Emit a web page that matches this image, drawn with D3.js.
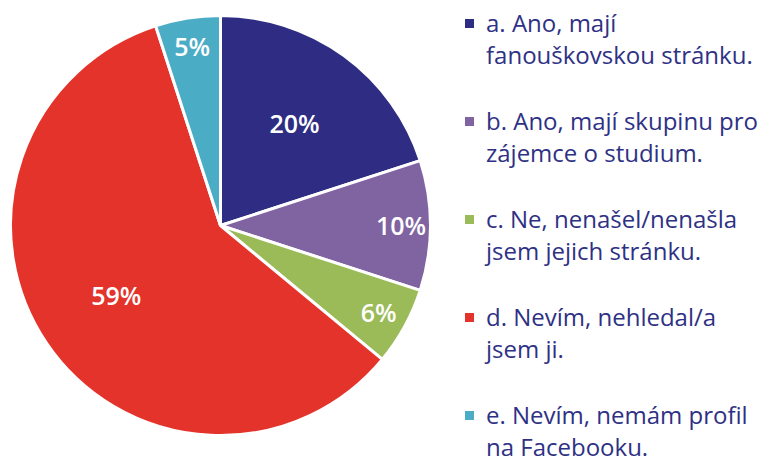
<!DOCTYPE html>
<html lang="cs">
<head>
<meta charset="utf-8">
<title>Facebook stránka školy</title>
<style>
html,body{margin:0;padding:0;background:#fff;}
svg{display:block;}
.legend text{fill:#2e3184;font-family:"Open Sans",sans-serif;font-size:24px;}
.lbl{fill:#fff;font-family:"Open Sans",sans-serif;font-size:25px;font-weight:600;}
</style>
</head>
<body>
<svg id="chart" width="762" height="460"></svg>
<script src="https://cdn.jsdelivr.net/npm/d3@7"></script>
<script>
// data
const labels = [
  ['a. Ano, mají', 'fanouškovskou stránku.'],
  ['b. Ano, mají skupinu pro', 'zájemce o studium.'],
  ['c. Ne, nenašel/nenašla', 'jsem jejich stránku.'],
  ['d. Nevím, nehledal/a', 'jsem ji.'],
  ['e. Nevím, nemám profil', 'na Facebooku.']
];
const values = [20, 10, 6, 59, 5];
const colors = ['#2e2d83', '#8064a2', '#9bbb59', '#e3332a', '#4bacc6'];

const svg = d3.select('#chart');
const cx = 220.5, cy = 225.5, r = 210;

const pie = d3.pie().sort(null).value(d => d);
const arcs = pie(values);
const arc = d3.arc().innerRadius(0).outerRadius(r);

const g = svg.append('g').attr('transform', `translate(${cx},${cy})`);
g.selectAll('path').data(arcs).join('path')
  .attr('d', arc)
  .attr('fill', (d, i) => colors[i])
  .attr('stroke', '#fff')
  .attr('stroke-width', 3)
  .attr('stroke-linejoin', 'miter');

// small slices get their label further out
g.selectAll('text').data(arcs).join('text')
  .attr('class', 'lbl')
  .attr('transform', d => {
    const k = d.data < 15 ? 0.86 : 0.6;
    const c = d3.arc().innerRadius(r * k).outerRadius(r * k).centroid(d);
    return `translate(${c[0]},${c[1]})`;
  })
  .attr('text-anchor', 'middle')
  .attr('dy', '0.36em')
  .text(d => d.data + '%');

const lg = svg.append('g').attr('class', 'legend');
const item = lg.selectAll('g').data(labels).join('g')
  .attr('transform', (d, i) => `translate(465,${32 + i * 98})`);
item.append('rect')
  .attr('x', 0).attr('y', -13).attr('width', 9).attr('height', 9)
  .attr('fill', (d, i) => colors[i]);
item.append('text')
  .selectAll('tspan').data(d => d).join('tspan')
  .attr('x', 21)
  .attr('y', (d, i) => i * 32)
  .text(d => d);
</script>
</body>
</html>
